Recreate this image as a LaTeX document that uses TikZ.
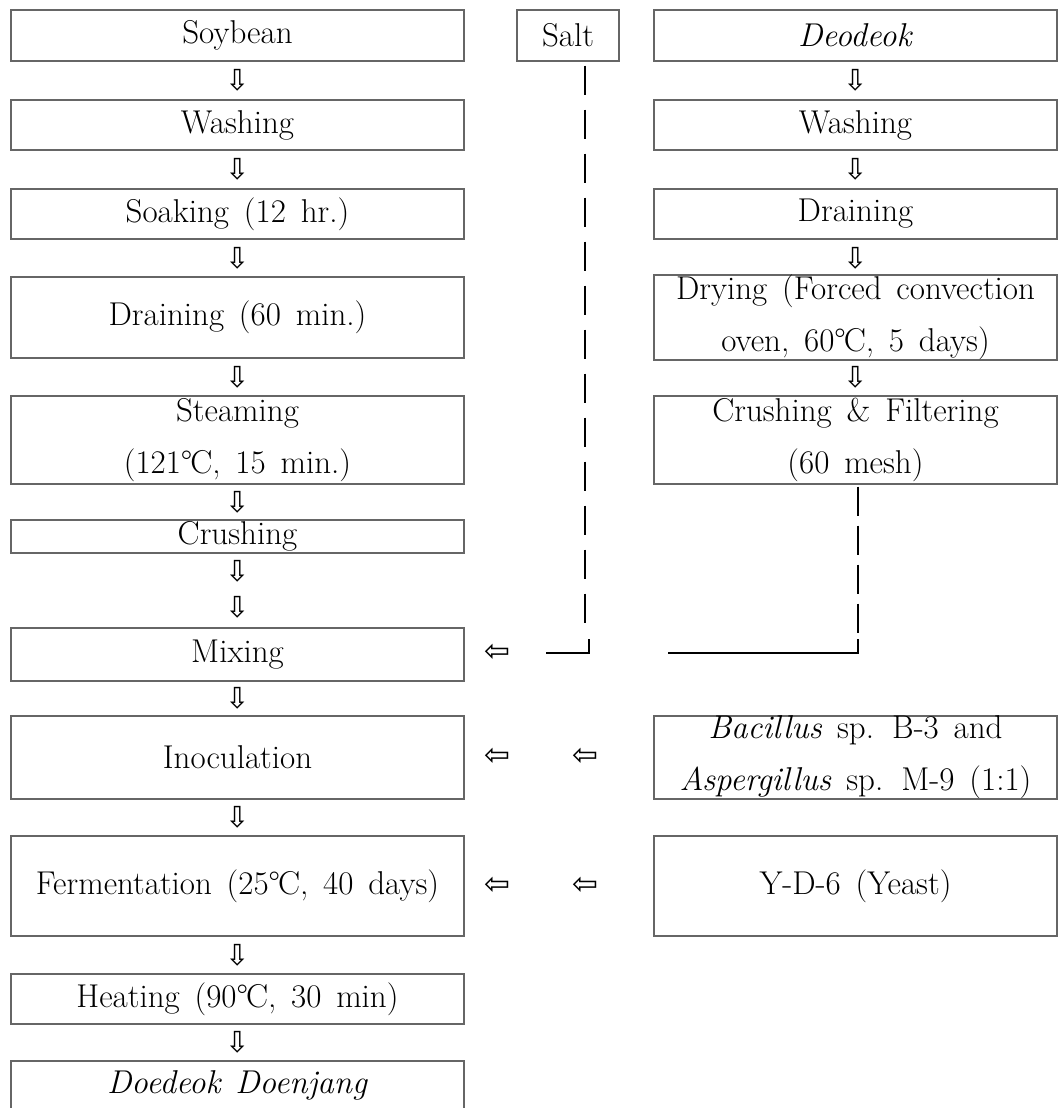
\documentclass[tikz,border=0pt]{standalone}
\usepackage{fontspec}
\newfontfamily\arrowfont{DejaVu Sans}
\usetikzlibrary{positioning}
\newcommand{\degc}{°\kern-0.06em C}
\newcommand{\boxfont}{\fontsize{33pt}{52pt}\selectfont\spaceskip=0.45em\relax}
\tikzset{
  procbox/.style={draw=black!60, line width=1.3pt, rectangle, inner sep=0pt, align=center, minimum width=453pt, font=\boxfont},
  sidebox/.style={procbox, minimum width=403pt},
  saltbox/.style={procbox, minimum width=102pt, minimum height=51pt},
  downarr/.style={inner sep=0pt, font=\arrowfont\fontsize{29pt}{29pt}\selectfont},
  leftarr/.style={inner sep=0pt, font=\arrowfont\fontsize{31pt}{31pt}\selectfont},
  saltline/.style={line width=1.5pt, dash pattern=on 29pt off 15pt},
  powderline/.style={line width=1.5pt, dash pattern=on 29pt off 10pt},
  joinline/.style={line width=1.5pt}
}
\begin{document}
\begin{tikzpicture}[x=1pt, y=-1pt]
  \clip (0,0) rectangle (1058,1108);
  % main line (soybean)
  \node[procbox, minimum height=51pt] (soy) at (237.5,35.5) {Soybean};
  \node[procbox, minimum height=50pt] (wash) at (237.5,125) {Washing};
  \node[procbox, minimum height=50pt] (soak) at (237.5,214) {Soaking (12 hr.)};
  \node[procbox, minimum height=81pt] (drain) at (237.5,317.5) {Draining (60 min.)};
  \node[procbox, minimum height=88pt] (steam) at (237.5,440) {Steaming\\(121\degc, 15 min.)};
  \node[procbox, minimum height=33pt] (crush) at (237.5,536.5) {Crushing};
  \node[procbox, minimum height=53pt] (mix) at (237.5,654.5) {Mixing};
  \node[procbox, minimum height=83pt] (inoc) at (237.5,757.5) {Inoculation};
  \node[procbox, minimum height=100pt] (ferm) at (237.5,886) {Fermentation (25\degc, 40 days)};
  \node[procbox, minimum height=50pt] (heat) at (237.5,999) {Heating (90\degc, 30 min)};
  \node[procbox, minimum height=49pt] (prod) at (237.5,1085.5) {\textit{Doedeok Doenjang}};
  % salt
  \node[saltbox] (salt) at (568,35.5) {Salt};
  % side line (deodeok)
  \node[sidebox, minimum height=51pt] (deo) at (855.5,35.5) {\textit{Deodeok}};
  \node[sidebox, minimum height=50pt] (rwash) at (855.5,125) {Washing};
  \node[sidebox, minimum height=50pt] (rdrain) at (855.5,214) {Draining};
  \node[sidebox, minimum height=81pt] (dry) at (855.5,317.5) {Drying (Forced convection\\oven, 60\degc, 5 days)};
  \node[sidebox, minimum height=88pt] (filt) at (855.5,440) {Crushing \& Filtering\\(60 mesh)};
  \node[sidebox, minimum height=83pt] (bac) at (855.5,757.5) {\textit{Bacillus} sp. B-3 and\\\textit{Aspergillus} sp. M-9 (1:1)};
  \node[sidebox, minimum height=100pt] (yeast) at (855.5,886) {Y-D-6 (Yeast)};
  % down arrows
  \node[downarr] (d1) at (237.5,80.5) {⇩};
  \node[downarr] (d2) at (237.5,169.5) {⇩};
  \node[downarr] (d3) at (237.5,258) {⇩};
  \node[downarr] (d4) at (237.5,377) {⇩};
  \node[downarr] (d5) at (237.5,502) {⇩};
  \node[downarr] (d6) at (237.5,571) {⇩};
  \node[downarr] (d7) at (237.5,607) {⇩};
  \node[downarr] (d8) at (237.5,698.5) {⇩};
  \node[downarr] (d9) at (237.5,817.5) {⇩};
  \node[downarr] (d10) at (237.5,955) {⇩};
  \node[downarr] (d11) at (237.5,1042.5) {⇩};
  \node[downarr] (r1) at (855.5,80.5) {⇩};
  \node[downarr] (r2) at (855.5,169.5) {⇩};
  \node[downarr] (r3) at (855.5,258) {⇩};
  \node[downarr] (r4) at (855.5,377) {⇩};
  % left arrows
  \node[leftarr] (l1) at (497,653) {⇦};
  \node[leftarr] (l2) at (497,757) {⇦};
  \node[leftarr] (l3) at (585,757) {⇦};
  \node[leftarr] (l4) at (497,886) {⇦};
  \node[leftarr] (l5) at (585,886) {⇦};
  % feed lines
  \coordinate (saltfoot) at (585,624);
  \coordinate (saltbend) at (589,639);
  \coordinate (saltend) at (546,653);
  \coordinate (filtfoot) at (858,640);
  \coordinate (filtbend) at (858,639);
  \coordinate (filtend) at (668,653);
  \draw[saltline, shorten <=4pt] (salt.south -| saltfoot) -- (saltfoot);
  \draw[joinline] (saltbend) |- (saltend);
  \draw[powderline, shorten <=2pt] (filt.south -| filtfoot) -- (filtfoot);
  \draw[joinline] (filtbend) |- (filtend);
\end{tikzpicture}
\end{document}
